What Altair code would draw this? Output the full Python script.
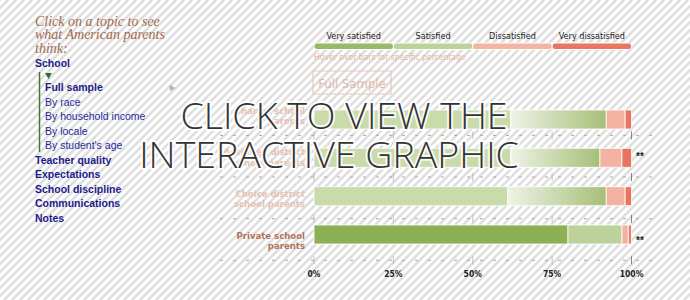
import altair as alt
import pandas as pd

# ---------------- data ----------------
groups = ["Charter school parents", "Assigned district school parents",
          "Choice district school parents", "Private school parents"]
label_line1 = ["Charter school", "Assigned district", "Choice district", "Private school"]
label_line2 = ["parents", "school parents", "school parents", "parents"]
significance = ["", "**", "", "**"]
highlighted = [False, False, False, True]

categories = ["Very satisfied", "Satisfied", "Dissatisfied", "Very dissatisfied"]
very_satisfied = [62, 62, 61, 80]
satisfied = [30, 28, 31, 17]
dissatisfied = [6, 7, 6, 2]
very_dissatisfied = [2, 3, 2, 1]

tick_values = [0, 25, 50, 75, 100]
tick_labels = ["0%", "25%", "50%", "75%", "100%"]

nav_title = ["Click on a topic to see", "what American parents", "think:"]
nav_top = "School"
nav_sub = ["Full sample", "By race", "By household income", "By locale", "By student's age"]
nav_rest = ["Teacher quality", "Expectations", "School discipline", "Communications", "Notes"]

legend_note = "Hover over bars for specific percentage"
button_text = "Full Sample"
overlay_lines = ["CLICK TO VIEW THE", "INTERACTIVE GRAPHIC"]

# ---------------- styles ----------------
COND = "Liberation Sans Narrow, DejaVu Sans Condensed, Roboto, sans-serif"
NAVY = "#1e1c8a"
cat_colors_hl = ["#8db055", "#bdd19b", "#f3b1a1", "#ec7e69"]
cat_colors_fd = ["#c9dbab", "#d3e2bd", "#f3b3a3", "#e9745f"]
legend_colors = ["#98b96a", "#bdd39b", "#f3b4a4", "#e9765f"]

# ---------------- tables ----------------
series = [very_satisfied, satisfied, dissatisfied, very_dissatisfied]
rows = []
for i, g in enumerate(groups):
    for j, c in enumerate(categories):
        hl = highlighted[i]
        rows.append({"group": g, "ri": i, "ci": j, "cat": c, "value": series[j][i],
                     "hl": hl, "key": (c if hl else "faded " + c)})
bars_df = pd.DataFrame(rows)
keys = categories + ["faded " + c for c in categories]
key_colors = cat_colors_hl + cat_colors_fd

grp_df = pd.DataFrame({"group": groups, "ri": list(range(len(groups))),
                       "l1": label_line1, "l2": label_line2,
                       "sig": significance, "hl": highlighted})
tick_df = pd.DataFrame([{"t": t, "ri": i} for i in range(len(groups)) for t in tick_values])
ticklab_df = pd.DataFrame({"t": tick_values, "lab": tick_labels})
leg_df = pd.DataFrame({"cat": categories, "ci": list(range(len(categories)))})

X = alt.Scale(domain=[0, 100], range=[314, 631.5])
Y = alt.Scale(domain=[0, 3], range=[114.5, 239.5])

one = pd.DataFrame({"a": [0]})


def text(t, x, y, size, color, weight="normal", font=COND, align="left", style="normal", **kw):
    return alt.Chart(pd.DataFrame({"t": [t]})).mark_text(
        align=align, baseline="alphabetic", fontSize=size, color=color,
        fontWeight=weight, font=font, fontStyle=style, **kw
    ).encode(x=alt.value(x), y=alt.value(y), text="t:N")


# background stripes
stripes = alt.Chart(alt.sequence(-300, 700, 8, as_="s")).transform_calculate(
    e="datum.s + 300"
).mark_rule(color="#dedede", strokeWidth=2.6).encode(
    x=alt.X("s:Q", scale=None), x2="e:Q", y=alt.value(300), y2=alt.value(0)
)

# gridlines
grid = alt.Chart(grp_df).transform_calculate(gy="datum.ri + 0.5").mark_rule(
    color="#a8a8a8", strokeDash=[3, 10], strokeWidth=1
).encode(x=alt.value(220), x2=alt.value(660), y=alt.Y("gy:Q", scale=Y, axis=None))

ticks = alt.Chart(tick_df).transform_calculate(gy="datum.ri + 0.5").mark_tick(
    orient="vertical", size=8, thickness=1
).encode(
    x=alt.X("t:Q", scale=X, axis=None), y=alt.Y("gy:Q", scale=Y, axis=None),
    color=alt.condition("datum.t == 100", alt.value("#555555"), alt.value("#aaaaaa")),
)

ticklabs = alt.Chart(ticklab_df).mark_text(
    fontSize=8.5, fontWeight="bold", font=COND, color="#222222", baseline="alphabetic"
).encode(x=alt.X("t:Q", scale=X, axis=None), y=alt.value(277), text="lab:N")

# bars
base = alt.Chart(bars_df).transform_stack(
    stack="value", groupby=["group"], as_=["x0", "x1"], sort=[alt.SortField("ci", order="ascending")]
)
bars = base.mark_bar(size=19, orient="horizontal", stroke="white", strokeWidth=0.8).encode(
    x=alt.X("x0:Q", scale=X, axis=None), x2="x1:Q",
    y=alt.Y("ri:Q", scale=Y, axis=None),
    color=alt.Color("key:N", scale=alt.Scale(domain=keys, range=key_colors), legend=None),
)
grad = base.transform_filter("!datum.hl && datum.ci == 1").mark_bar(
    size=19, orient="horizontal", stroke="white", strokeWidth=0.8,
    color=alt.Gradient(gradient="linear", x1=0, x2=1, y1=0, y2=0,
                       stops=[alt.GradientStop(color="#eef3e6", offset=0),
                              alt.GradientStop(color="#a6bf78", offset=1)]),
).encode(x=alt.X("x0:Q", scale=X, axis=None), x2="x1:Q", y=alt.Y("ri:Q", scale=Y, axis=None))

# row labels
lab1 = alt.Chart(grp_df).mark_text(
    align="right", baseline="alphabetic", fontSize=9.5, fontWeight="bold", font=COND, dy=-1
).encode(
    x=alt.value(305), y=alt.Y("ri:Q", scale=Y, axis=None), text="l1:N",
    color=alt.condition("datum.hl", alt.value("#b4735c"), alt.value("#e6c2b2")),
)
lab2 = alt.Chart(grp_df).mark_text(
    align="right", baseline="alphabetic", fontSize=9.5, fontWeight="bold", font=COND, dy=9.5
).encode(
    x=alt.value(305), y=alt.Y("ri:Q", scale=Y, axis=None), text="l2:N",
    color=alt.condition("datum.hl", alt.value("#b4735c"), alt.value("#e6c2b2")),
)
sig = alt.Chart(grp_df).mark_text(
    align="left", baseline="middle", fontSize=10, fontWeight="bold", color="#222222", dy=1
).encode(x=alt.value(636), y=alt.Y("ri:Q", scale=Y, axis=None), text="sig:N")

# legend
leg_bars = alt.Chart(leg_df).transform_calculate(
    s="datum.ci * 25", e="datum.ci * 25 + 25"
).mark_bar(cornerRadius=3, stroke="white", strokeWidth=1).encode(
    x=alt.X("s:Q", scale=X, axis=None), x2="e:Q",
    y=alt.value(43), y2=alt.value(49.5),
    color=alt.Color("cat:N", scale=alt.Scale(domain=categories, range=legend_colors), legend=None),
)
leg_text = alt.Chart(leg_df).transform_calculate(m="datum.ci * 25 + 12.5").mark_text(
    fontSize=9, font=COND, color="#222222", baseline="alphabetic"
).encode(x=alt.X("m:Q", scale=X, axis=None), y=alt.value(39), text="cat:N")

note = text(legend_note, 314, 60, 8.5, "#e3b7a6")
button = alt.Chart(one).mark_rect(fill="white", fillOpacity=0, stroke="#e9c9ba", strokeWidth=1.2).encode(
    x=alt.value(313), x2=alt.value(391), y=alt.value(71), y2=alt.value(94)
)
button_t = text(button_text, 352, 88, 13, "#e2b9a8", align="center")

# left navigation
nav = []
for k, line in enumerate(nav_title):
    nav.append(text(line, 35, 26 + k * 13.3, 14, "#a2694c", font="Liberation Serif, serif", style="italic"))
nav.append(text(nav_top, 35, 67, 10.5, NAVY, weight="bold", font="Liberation Sans, Arial, sans-serif"))
for k, item in enumerate(nav_sub):
    nav.append(text(item, 45, 91 + k * 14.5, 10.5, "#2a2a96" if k else NAVY,
                    weight="bold" if k == 0 else "normal", font="Liberation Sans, Arial, sans-serif"))
for k, item in enumerate(nav_rest):
    nav.append(text(item, 35, 163.5 + k * 14.5, 10.5, NAVY, weight="bold",
                    font="Liberation Sans, Arial, sans-serif"))
vline = alt.Chart(one).mark_rule(color="#3b7a3b", strokeWidth=1.5).encode(
    x=alt.value(39.5), y=alt.value(72), y2=alt.value(152)
)
tri_down = alt.Chart(one).mark_point(shape="triangle-down", filled=True, size=45, color="#2f6e2f", opacity=1).encode(
    x=alt.value(48.5), y=alt.value(76)
)
tri_right = alt.Chart(one).mark_point(shape="triangle-right", filled=True, size=40, color="#a9bd9a", opacity=1).encode(
    x=alt.value(172.5), y=alt.value(88)
)

# overlay text
overlay_x = [344, 329]
overlay_y = [129, 168]
overlay = []
for k, line in enumerate(overlay_lines):
    overlay.append(text(line, overlay_x[k], overlay_y[k], 37.5, "white", font="Open Sans, sans-serif",
                        weight=300, align="center", stroke="white", strokeWidth=4, strokeOpacity=0.85))
for k, line in enumerate(overlay_lines):
    overlay.append(text(line, overlay_x[k], overlay_y[k], 37.5, "#333333", font="Open Sans, sans-serif",
                        weight=300, align="center"))

chart = alt.layer(
    stripes, grid, ticks, ticklabs, bars, grad, lab1, lab2, sig,
    leg_bars, leg_text, note, button, button_t,
    *nav, vline, tri_down, tri_right, *overlay
).resolve_scale(x="independent", y="independent", color="independent").properties(
    width=690, height=300, autosize=alt.AutoSizeParams(type="none"), padding=0,
    background="white"
).configure_view(stroke=None)

chart.save("out.html", embed_options={"renderer": "svg", "actions": False})
